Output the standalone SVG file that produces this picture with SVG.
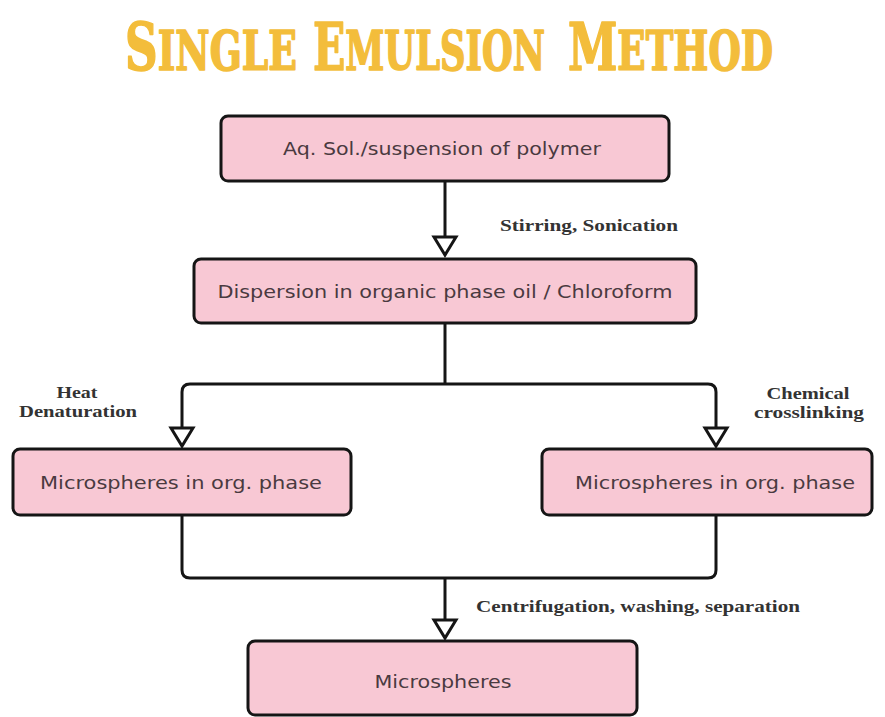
<svg xmlns="http://www.w3.org/2000/svg" width="885" height="717" viewBox="0 0 885 717">
<style>
.title{font-family:"DejaVu Serif Condensed","DejaVu Serif",serif;font-weight:bold;fill:#F3BD3B;stroke:#F3BD3B;stroke-width:1.6;stroke-linejoin:round;}
.big{font-size:66px;}
.sm{font-size:55px;}
.box{fill:#F8C8D4;stroke:#151515;stroke-width:3;}
.nt{font-family:"DejaVu Sans","Noto Sans",sans-serif;font-size:18px;fill:#4a3a40;text-anchor:middle;}
.lbl{font-family:"Liberation Serif",serif;font-weight:bold;font-size:17px;fill:#333;}
.lc{text-anchor:middle;}
.conn{fill:none;stroke:#151515;stroke-width:3;}
</style>
<defs>
<marker id="tri" markerUnits="userSpaceOnUse" markerWidth="30" markerHeight="30" viewBox="-4 -15 30 30" refX="18" refY="0" orient="auto" overflow="visible">
<path d="M0,-11 L18,0 L0,11 Z" fill="#fff" stroke="#151515" stroke-width="3"/>
</marker>
</defs>
<rect width="885" height="717" fill="#ffffff"/>
<g id="title">
<text class="title" x="125" y="70" textLength="172" lengthAdjust="spacingAndGlyphs"><tspan class="big">S</tspan><tspan class="sm">INGLE</tspan></text>
<text class="title" x="313" y="70" textLength="232" lengthAdjust="spacingAndGlyphs"><tspan class="big">E</tspan><tspan class="sm">MULSION</tspan></text>
<text class="title" x="568" y="70" textLength="205" lengthAdjust="spacingAndGlyphs"><tspan class="big">M</tspan><tspan class="sm">ETHOD</tspan></text>
</g>
<g id="connectors">
<path class="conn" d="M445,181 V255" marker-end="url(#tri)"/>
<path class="conn" d="M445,323 V384"/>
<path class="conn" d="M445,384 H190 Q182,384 182,392 V446" marker-end="url(#tri)"/>
<path class="conn" d="M445,384 H708 Q716,384 716,392 V446" marker-end="url(#tri)"/>
<path class="conn" d="M182,515 V570 Q182,578 190,578 H708 Q716,578 716,570 V515"/>
<path class="conn" d="M445,578 V638" marker-end="url(#tri)"/>
<text class="lbl" x="500" y="231" textLength="178" lengthAdjust="spacingAndGlyphs">Stirring, Sonication</text>
<text class="lbl lc" x="77" y="398" textLength="41" lengthAdjust="spacingAndGlyphs">Heat</text>
<text class="lbl lc" x="78" y="417" textLength="118" lengthAdjust="spacingAndGlyphs">Denaturation</text>
<text class="lbl lc" x="808" y="399" textLength="83" lengthAdjust="spacingAndGlyphs">Chemical</text>
<text class="lbl lc" x="809" y="418" textLength="110" lengthAdjust="spacingAndGlyphs">crosslinking</text>
<text class="lbl" x="476" y="612" textLength="324" lengthAdjust="spacingAndGlyphs">Centrifugation, washing, separation</text>
</g>
<g id="node1">
<rect class="box" x="221" y="116" width="448" height="65" rx="7"/>
<text class="nt" x="442" y="155" textLength="318" lengthAdjust="spacingAndGlyphs">Aq. Sol./suspension of polymer</text>
</g>
<g id="node2">
<rect class="box" x="194" y="259" width="502" height="64" rx="7"/>
<text class="nt" x="445" y="298" textLength="455" lengthAdjust="spacingAndGlyphs">Dispersion in organic phase oil / Chloroform</text>
</g>
<g id="node3">
<rect class="box" x="13" y="449" width="338" height="66" rx="7"/>
<text class="nt" x="181" y="489" textLength="282" lengthAdjust="spacingAndGlyphs">Microspheres in org. phase</text>
</g>
<g id="node4">
<rect class="box" x="542" y="449" width="330" height="66" rx="7"/>
<text class="nt" x="715" y="489" textLength="280" lengthAdjust="spacingAndGlyphs">Microspheres in org. phase</text>
</g>
<g id="node5">
<rect class="box" x="248" y="641" width="389" height="74" rx="7"/>
<text class="nt" x="443" y="688" textLength="137" lengthAdjust="spacingAndGlyphs">Microspheres</text>
</g>
</svg>
